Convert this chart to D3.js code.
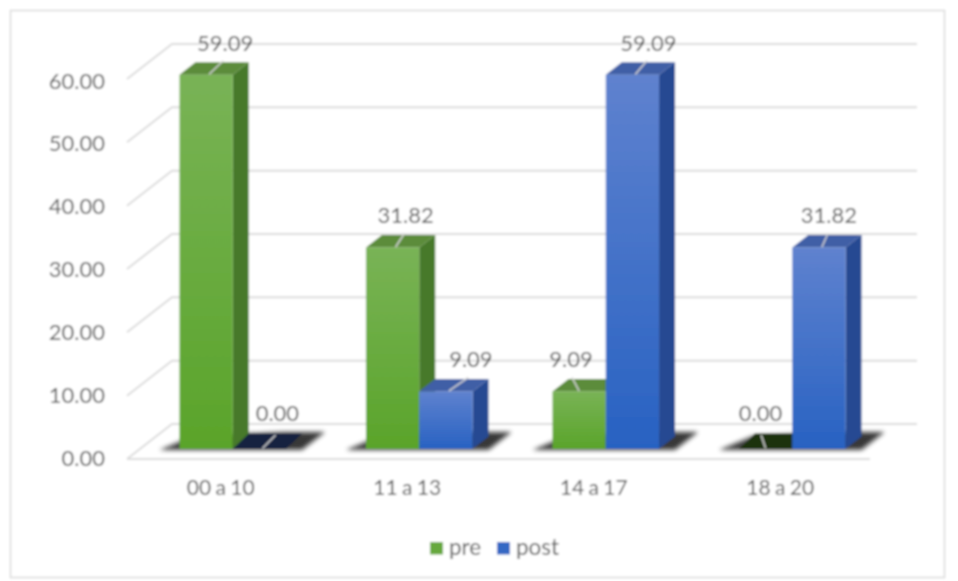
<!DOCTYPE html>
<html><head><meta charset="utf-8">
<script src="https://cdn.jsdelivr.net/npm/d3@7"></script>
<style>html,body{margin:0;padding:0;background:#fff}svg{display:block}text{font-family:Lato,"Open Sans",sans-serif;fill:#5e5e5e}</style>
</head><body><svg id="c" width="958" height="581"></svg>
<script>
const categories = ["00 a 10","11 a 13","14 a 17","18 a 20"];
const pre = [59.09,31.82,9.09,0];
const post = [0,9.09,59.09,31.82];
const seriesNames = ["pre","post"];
const yTicks = [0,10,20,30,40,50,60];

const svg = d3.select("#c");
const defs = svg.append("defs");
const blur = defs.append("filter").attr("id","soft").attr("x","-5%").attr("y","-5%").attr("width","110%").attr("height","110%");
blur.append("feGaussianBlur").attr("stdDeviation",0.85);
const sb = defs.append("filter").attr("id","shadow").attr("x","-20%").attr("y","-40%").attr("width","140%").attr("height","180%");
sb.append("feGaussianBlur").attr("stdDeviation",2);
function grad(id,c1,c2){const g=defs.append("linearGradient").attr("id",id).attr("x1",0).attr("x2",0).attr("y1",0).attr("y2",1);
 g.append("stop").attr("offset","0%").attr("stop-color",c1);g.append("stop").attr("offset","100%").attr("stop-color",c2);}
grad("gPre","#79b356","#5aa42a");
grad("gPost","#5f82cf","#2862c2");

const root = svg.append("g").attr("filter","url(#soft)");
root.append("rect").attr("x",10.5).attr("y",10.5).attr("width",934).attr("height",567).attr("fill","#fff").attr("stroke","#d9d9d9").attr("stroke-width",1.5);

const y = d3.scaleLinear().domain([0,60]).range([449,69]);
const yLabel = d3.scaleLinear().domain([0,60]).range([458,81]);
const x0 = d3.scaleBand().domain(categories).range([139.5,885.5]);
const barW = 53.3, dx=16, dy=-12.5;
const gridFront = v => 459-(y(0)-y(v));
const gridBack = v => 424-(y(0)-y(v));

const grid = root.append("g").attr("stroke","#dcdcdc").attr("stroke-width",2).attr("fill","none");
yTicks.forEach(v=>{
  grid.append("path").attr("d",`M127,${gridFront(v)}L172,${gridBack(v)}L917,${gridBack(v)}`);
});
grid.append("line").attr("x1",127).attr("x2",870).attr("y1",459).attr("y2",459);

root.append("g").selectAll("text").data(yTicks).join("text")
 .attr("x",105).attr("y",v=>yLabel(v)+7.5).attr("text-anchor","end").attr("font-size",22).text(v=>d3.format(".2f")(v));

function barX(i,s){const c=x0(categories[i])+x0.bandwidth()/2;return s===0?c-barW:c;}
const bars=[];
categories.forEach((c,i)=>{bars.push({i,s:0,v:pre[i]});bars.push({i,s:1,v:post[i]});});

categories.forEach((c,i)=>{
  const xl=barX(i,0), xr=barX(i,1)+barW;
  root.append("path").attr("d",`M${xl-20},450L${xr+16},450L${xr+39},432L${xr-3},432L${xl+14},436Z`).attr("fill","#111").attr("opacity",0.82).attr("filter","url(#shadow)");
});

const colors={0:{top:"#5c8c3b",side:"#47792c",zero:"#1c3011"},1:{top:"#3f5ea6",side:"#264a92",zero:"#13213f"}};
const g3=root.append("g");
bars.forEach(d=>{
  const X=barX(d.i,d.s),T=y(d.v),B=y(0),c=colors[d.s];
  const g=g3.append("g");
  if(d.v===0){
    g.append("path").attr("d",`M${X},${B}L${X+barW},${B}L${X+barW+dx},${B+dy-3}L${X+dx},${B+dy-3}Z`).attr("fill",c.zero);
    return;
  }
  g.append("path").attr("d",`M${X+barW},${T}L${X+barW+dx},${T+dy}L${X+barW+dx},${B+dy}L${X+barW},${B}Z`).attr("fill",c.side);
  g.append("path").attr("d",`M${X},${T}L${X+barW},${T}L${X+barW+dx},${T+dy}L${X+dx},${T+dy}Z`).attr("fill",c.top);
  g.append("rect").attr("x",X).attr("y",T).attr("width",barW).attr("height",B-T).attr("fill",`url(#${d.s===0?"gPre":"gPost"})`);
});

const labelShift = {0:[19,13,-8,-5],1:[18,25,16,10]};
bars.forEach(d=>{
  const C=barX(d.i,d.s)+barW/2,T=y(d.v),s=labelShift[d.s][d.i];
  root.append("line").attr("x1",C+(s>0?3:0)).attr("y1",T-0.5).attr("x2",C+s*0.9).attr("y2",T-14).attr("stroke","#d4d4d4").attr("stroke-width",1.5);
  root.append("text").attr("x",C+s).attr("y",T-(d.v===0?28:24)).attr("text-anchor","middle").attr("font-size",22).text(d3.format(".2f")(d.v));
});

root.append("g").selectAll("text").data(categories).join("text")
 .attr("x",c=>x0(c)+x0.bandwidth()/2-12).attr("y",495).attr("text-anchor","middle").attr("font-size",21).attr("word-spacing","-1").text(c=>c);

const legX=[430,497], legC=["#66a83c","#3568c4"];
seriesNames.forEach((n,i)=>{
  root.append("rect").attr("x",legX[i]).attr("y",542).attr("width",13).attr("height",12.5).attr("fill",legC[i]);
  root.append("text").attr("x",legX[i]+19).attr("y",555).attr("font-size",22.5).text(n);
});
</script></body></html>
